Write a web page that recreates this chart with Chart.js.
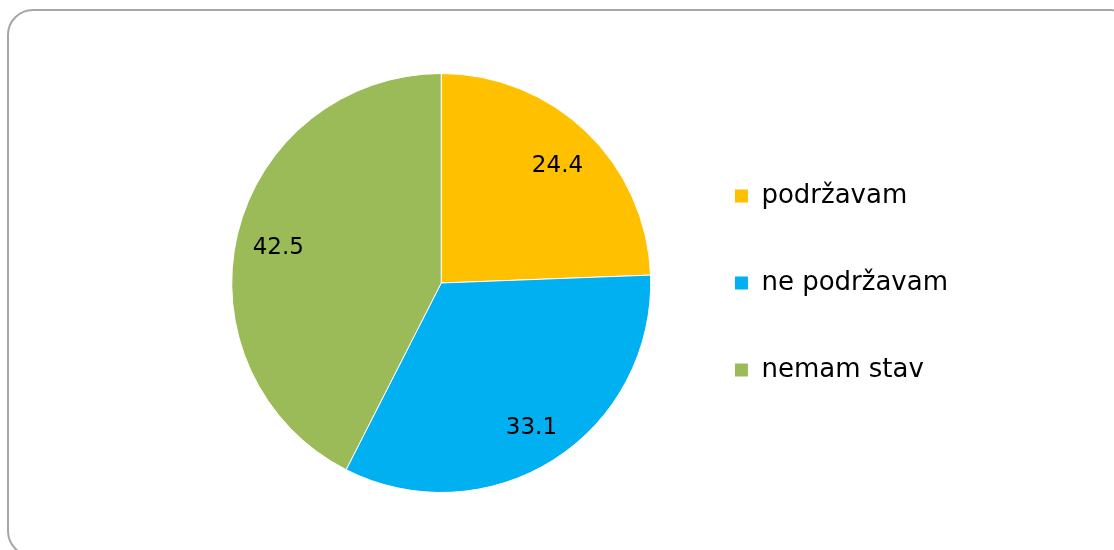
<!DOCTYPE html>
<html>
<head>
<meta charset="utf-8">
<script src="https://cdn.jsdelivr.net/npm/chart.js@4.4.0/dist/chart.umd.min.js"></script>
<style>
  html, body { margin: 0; padding: 0; background: #fff; overflow: hidden; }
  #okvir {
    position: absolute; left: 7px; top: 9px; width: 1130px; height: 548px;
    border: 2px solid #a6a6a6; border-radius: 26px; box-sizing: border-box;
  }
  #wrap { position: absolute; left: 0; top: 0; width: 1114px; height: 550px; }
</style>
</head>
<body>
<div id="okvir"></div>
<div id="wrap"><canvas id="myChart"></canvas></div>
<script>
const kategorije = ['podržavam', 'ne podržavam', 'nemam stav'];
const vrednosti = [24.4, 33.1, 42.5];
const boje = ['#FFC000', '#00B0F0', '#9BBB59'];

const font = "'DejaVu Sans', sans-serif";

const oznake = {
  id: 'oznake',
  afterDatasetsDraw(chart) {
    const ctx = chart.ctx;
    const meta = chart.getDatasetMeta(0);
    ctx.save();
    ctx.font = '23px ' + font;
    ctx.fillStyle = '#000';
    ctx.textAlign = 'center';
    ctx.textBaseline = 'middle';
    meta.data.forEach((arc, i) => {
      const p = arc.getProps(['x', 'y', 'startAngle', 'endAngle', 'outerRadius'], true);
      const ugao = (p.startAngle + p.endAngle) / 2;
      const d = p.outerRadius * 0.8;
      ctx.fillText(vrednosti[i].toFixed(1), p.x + Math.cos(ugao) * d, p.y + Math.sin(ugao) * d + 4);
    });
    ctx.restore();
  }
};

new Chart(document.getElementById('myChart'), {
  type: 'pie',
  data: {
    labels: kategorije,
    datasets: [{
      data: vrednosti,
      backgroundColor: boje,
      borderColor: '#ffffff',
      borderWidth: 1
    }]
  },
  options: {
    responsive: true,
    maintainAspectRatio: false,
    animation: false,
    layout: { padding: { left: 209, top: 73, bottom: 57, right: 156 } },
    plugins: {
      tooltip: { enabled: false },
      legend: {
        position: 'right',
        labels: {
          boxWidth: 14,
          boxHeight: 14,
          padding: 61,
          color: '#000',
          font: { family: font, size: 26 }
        }
      }
    }
  },
  plugins: [oznake]
});
</script>
</body>
</html>
